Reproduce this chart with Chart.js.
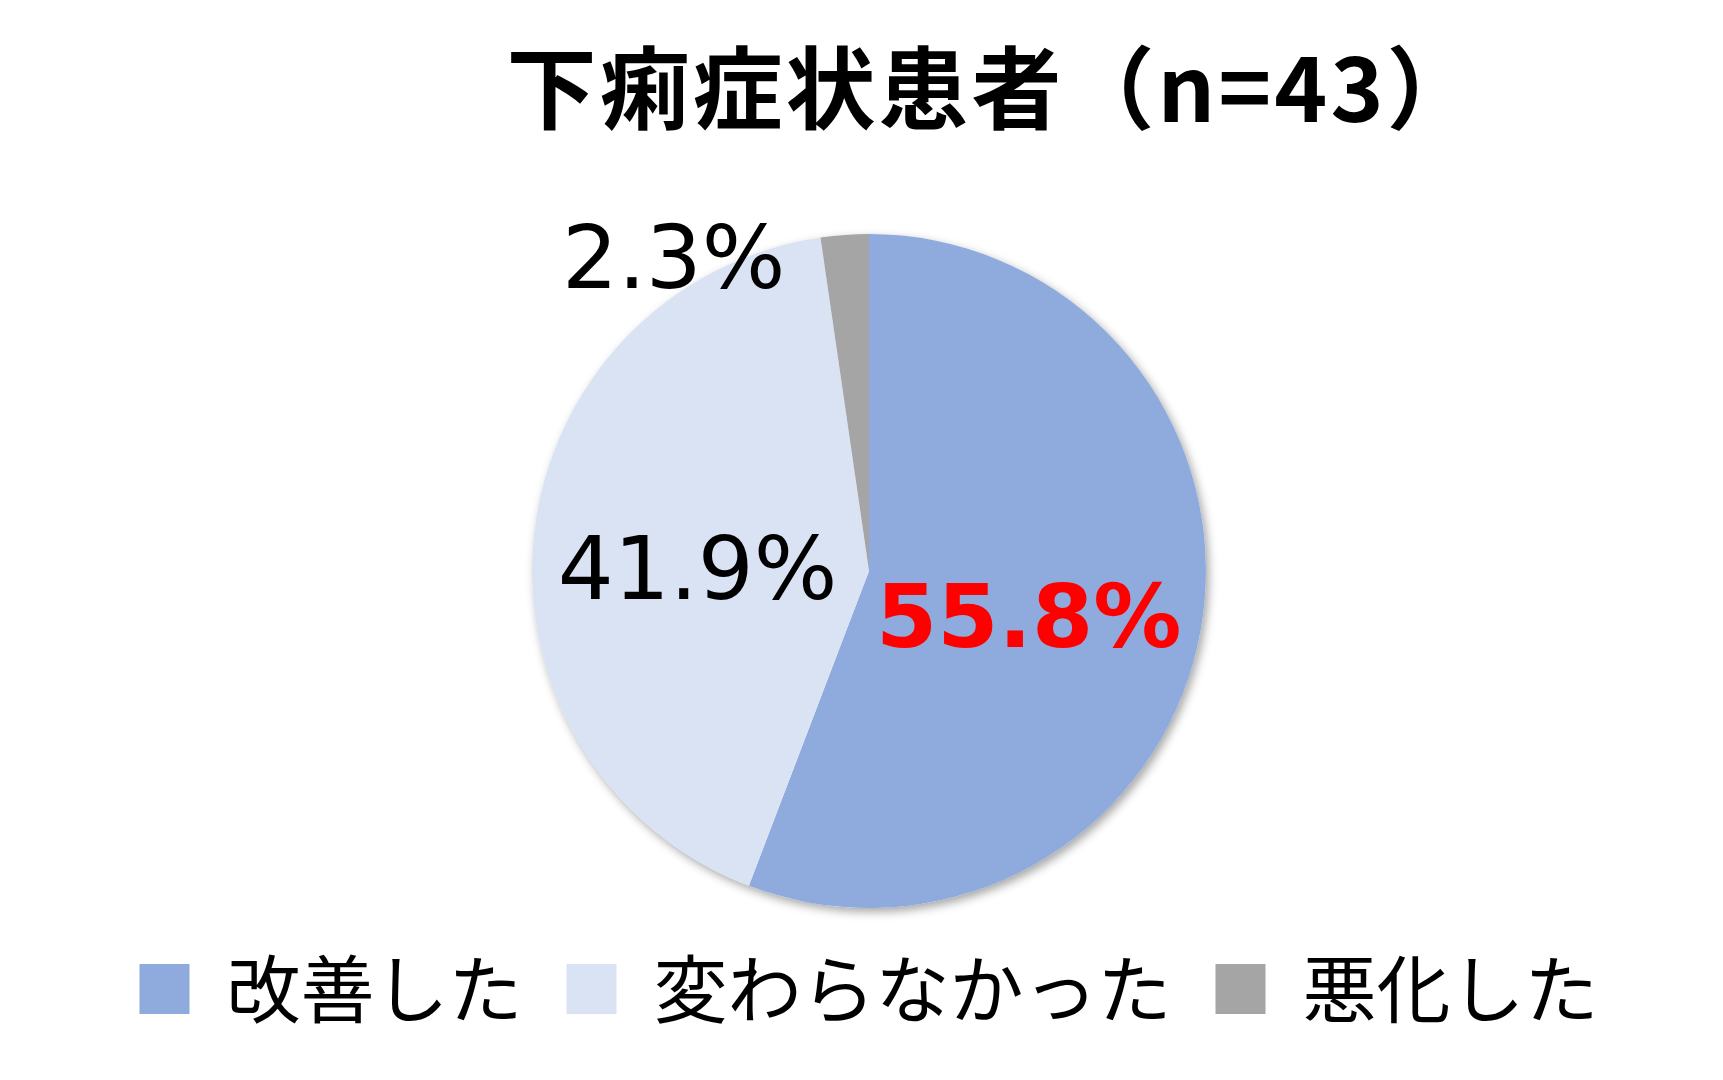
<!DOCTYPE html>
<html>
<head>
<meta charset="utf-8">
<script src="https://cdn.jsdelivr.net/npm/chart.js@4.4.0/dist/chart.umd.min.js"></script>
<style>
  html, body { margin: 0; padding: 0; background: #fff; }
  #wrap { width: 1723px; height: 1080px; }
</style>
</head>
<body>
<div id="wrap"><canvas id="pie"></canvas></div>
<script>
// chart data
const chartTitle = '下痢症状患者（n=43）';
const categories = ['改善した', '変わらなかった', '悪化した'];
const percentValues = [55.8, 41.9, 2.3];
const sliceColors = ['#8FAADC', '#DAE3F3', '#A5A5A5'];

// label placement per slice: fraction of radius along the mid angle, then pixel nudge
const labelStyle = [
    { frac: 0.5, dx: -6, dy: 23, color: '#FF0000', font: 'bold 88px "DejaVu Sans"' },
    { frac: 0.5, dx: -4, dy: 24, color: '#000000', font: '88px "DejaVu Sans"' },
    { frac: 1.0, dx: -171, dy: 30, color: '#000000', font: '88px "DejaVu Sans"' }
];

// soft shadow under the whole pie
const pieShadow = {
    id: 'pieShadow',
    beforeDatasetsDraw(chart) {
        const arc = chart.getDatasetMeta(0).data[0];
        if (!arc) return;
        const ctx = chart.ctx;
        ctx.save();
        ctx.shadowColor = 'rgba(0,0,0,0.35)';
        ctx.shadowBlur = 10;
        ctx.shadowOffsetX = 3;
        ctx.shadowOffsetY = 4;
        ctx.fillStyle = '#ffffff';
        ctx.beginPath();
        ctx.arc(arc.x, arc.y, arc.outerRadius, 0, Math.PI * 2);
        ctx.fill();
        ctx.restore();
    }
};

// percent labels on slices
const sliceLabels = {
    id: 'sliceLabels',
    afterDatasetsDraw(chart) {
        const ctx = chart.ctx;
        const meta = chart.getDatasetMeta(0);
        meta.data.forEach((arc, i) => {
            const p = arc.getProps(['x', 'y', 'startAngle', 'endAngle', 'outerRadius'], true);
            const mid = (p.startAngle + p.endAngle) / 2;
            const s = labelStyle[i];
            const x = p.x + Math.cos(mid) * p.outerRadius * s.frac + s.dx;
            const y = p.y + Math.sin(mid) * p.outerRadius * s.frac + s.dy;
            ctx.save();
            ctx.font = s.font;
            ctx.fillStyle = s.color;
            ctx.textAlign = 'center';
            ctx.textBaseline = 'middle';
            ctx.fillText(percentValues[i].toFixed(1) + '%', x, y);
            ctx.restore();
        });
    }
};

// title, drawn a little right of centre like the original
const titleText = {
    id: 'titleText',
    afterDraw(chart) {
        const ctx = chart.ctx;
        ctx.save();
        ctx.font = 'bold 90px "Noto Sans CJK JP"';
        ctx.letterSpacing = '3px';
        ctx.fillStyle = '#000000';
        ctx.textAlign = 'center';
        ctx.textBaseline = 'middle';
        ctx.fillText(chartTitle, 993, 88);
        ctx.restore();
    }
};

const info = {
    labels: categories,
    datasets: [{
        data: percentValues,
        backgroundColor: sliceColors,
        borderWidth: 0
    }]
};

const config = {
    type: 'pie',
    data: info,
    options: {
        responsive: false,
        animation: false,
        layout: {
            padding: { top: 234, bottom: 44, left: 15, right: 0 }
        },
        plugins: {
            legend: {
                position: 'bottom',
                labels: {
                    boxWidth: 50,
                    boxHeight: 50,
                    padding: 44,
                    color: '#000000',
                    font: { family: '"Noto Sans CJK JP"', size: 74 }
                }
            },
            tooltip: { enabled: false }
        }
    },
    plugins: [pieShadow, sliceLabels, titleText]
};

const canvas = document.getElementById('pie');
canvas.width = 1723;
canvas.height = 1080;
canvas.style.width = '1723px';
canvas.style.height = '1080px';
const myChart = new Chart(canvas, config);
</script>
</body>
</html>
